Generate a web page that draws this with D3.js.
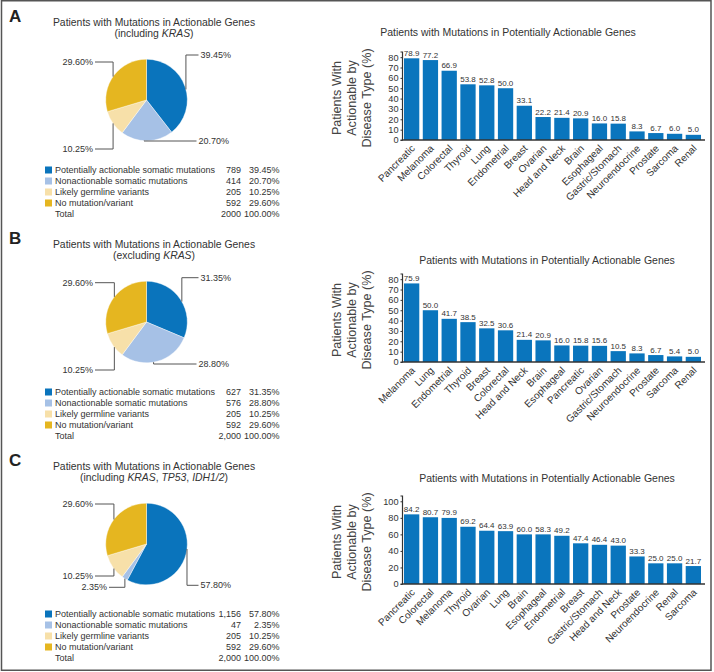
<!DOCTYPE html>
<html><head><meta charset="utf-8">
<script src="https://cdn.jsdelivr.net/npm/d3@7"></script>
<style>body{margin:0;background:#fff}svg{display:block}</style>
</head><body>
<svg id="chart" width="714" height="672"></svg>
<script>
// ---------- DATA ----------
const panelLetters = ["A", "B", "C"];
const pieCategories = ["Potentially actionable somatic mutations", "Nonactionable somatic mutations", "Likely germline variants", "No mutation/variant"];
const pieCountsA = [789, 414, 205, 592];
const pieCountsB = [627, 576, 205, 592];
const pieCountsC = [1156, 47, 205, 592];
const countTextA = ["789", "414", "205", "592", "2000"];
const countTextB = ["627", "576", "205", "592", "2,000"];
const countTextC = ["1,156", "47", "205", "592", "2,000"];
const pctTextA = ["39.45%", "20.70%", "10.25%", "29.60%", "100.00%"];
const pctTextB = ["31.35%", "28.80%", "10.25%", "29.60%", "100.00%"];
const pctTextC = ["57.80%", "2.35%", "10.25%", "29.60%", "100.00%"];
const pieTitle = "Patients with Mutations in Actionable Genes";
const pieSubtitlesA = [["(including ", false], ["KRAS", true], [")", false]];
const pieSubtitlesB = [["(excluding ", false], ["KRAS", true], [")", false]];
const pieSubtitlesC = [["(including ", false], ["KRAS", true], [", ", false], ["TP53", true], [", ", false], ["IDH1/2", true], [")", false]];

const barTitle = "Patients with Mutations in Potentially Actionable Genes";
const yAxisTitle = ["Patients With", "Actionable by", "Disease Type (%)"];
const categoriesA = ["Pancreatic", "Melanoma", "Colorectal", "Thyroid", "Lung", "Endometrial", "Breast", "Ovarian", "Head and Neck", "Brain", "Esophageal", "Gastric/Stomach", "Neuroendocrine", "Prostate", "Sarcoma", "Renal"];
const valuesA = [78.9, 77.2, 66.9, 53.8, 52.8, 50.0, 33.1, 22.2, 21.4, 20.9, 16.0, 15.8, 8.3, 6.7, 6.0, 5.0];
const labelsA = ["78.9", "77.2", "66.9", "53.8", "52.8", "50.0", "33.1", "22.2", "21.4", "20.9", "16.0", "15.8", "8.3", "6.7", "6.0", "5.0"];
const categoriesB = ["Melanoma", "Lung", "Endometrial", "Thyroid", "Breast", "Colorectal", "Head and Neck", "Brain", "Esophageal", "Pancreatic", "Ovarian", "Gastric/Stomach", "Neuroendocrine", "Prostate", "Sarcoma", "Renal"];
const valuesB = [75.9, 50.0, 41.7, 38.5, 32.5, 30.6, 21.4, 20.9, 16.0, 15.8, 15.6, 10.5, 8.3, 6.7, 5.4, 5.0];
const labelsB = ["75.9", "50.0", "41.7", "38.5", "32.5", "30.6", "21.4", "20.9", "16.0", "15.8", "15.6", "10.5", "8.3", "6.7", "5.4", "5.0"];
const categoriesC = ["Pancreatic", "Colorectal", "Melanoma", "Thyroid", "Ovarian", "Lung", "Brain", "Esophageal", "Endometrial", "Breast", "Gastric/Stomach", "Head and Neck", "Prostate", "Neuroendocrine", "Renal", "Sarcoma"];
const valuesC = [84.2, 80.7, 79.9, 69.2, 64.4, 63.9, 60.0, 60.0, 58.3, 49.2, 47.4, 46.4, 33.3, 25.0, 25.0, 21.7];
const labelsC = ["84.2", "80.7", "79.9", "69.2", "64.4", "63.9", "60.0", "58.3", "49.2", "47.4", "46.4", "43.0", "33.3", "25.0", "25.0", "21.7"];
const yTicksAB = [0, 10, 20, 30, 40, 50, 60, 70, 80];
const yTicksC = [0, 20, 40, 60, 80, 100];

// ---------- STYLE / LAYOUT ----------
const FONT = "'Liberation Sans', Arial, Helvetica, sans-serif";
const pieColors = ["#0a74bc", "#a6c1e6", "#f7e0a9", "#e5b620"];
const barColor = "#0a75bd";
const textColor = "#333";
const lineColor = "#555";

const panels = [
  { letter: panelLetters[0], off: 0, counts: pieCountsA, countText: countTextA, pctText: pctTextA, sub: pieSubtitlesA,
    cats: categoriesA, vals: valuesA, labs: labelsA, ticks: yTicksAB, yMax: 85, titleX: 508, titleY: 35.5,
    leaders: [
      { idx: 0, ang: 75, ly: -45, lx: 54, side: "r" },
      { idx: 1, ang: 183.5, ly: 41, lx: 52, side: "r" },
      { idx: 3, ang: 305, ly: -38, lx: -53.5, side: "l" },
      { idx: 2, ang: 235, ly: 49, lx: -53.5, side: "l" }]},
  { letter: panelLetters[1], off: 222, counts: pieCountsB, countText: countTextB, pctText: pctTextB, sub: pieSubtitlesB,
    cats: categoriesB, vals: valuesB, labs: labelsB, ticks: yTicksAB, yMax: 85, titleX: 547, titleY: 263.5,
    leaders: [
      { idx: 0, ang: 60, ly: -44.3, lx: 54, side: "r" },
      { idx: 1, ang: 170, ly: 42, lx: 52, side: "r" },
      { idx: 3, ang: 308, ly: -39.3, lx: -53.5, side: "l" },
      { idx: 2, ang: 232, ly: 48, lx: -53.5, side: "l" }]},
  { letter: panelLetters[2], off: 444, counts: pieCountsC, countText: countTextC, pctText: pctTextC, sub: pieSubtitlesC,
    cats: categoriesC, vals: valuesC, labs: labelsC, ticks: yTicksC, yMax: 106.4, titleX: 547, titleY: 481.5,
    leaders: [
      { idx: 0, ang: 97, ly: 41.3, lx: 54, side: "r" },
      { idx: 3, ang: 307, ly: -40, lx: -53.5, side: "l" },
      { idx: 2, ang: 233, ly: 32, lx: -53.5, side: "l" },
      { idx: 1, ang: 212, ly: 43.3, lx: -39.5, side: "l" }]}
];

const svg = d3.select("#chart").style("font-family", FONT);

// outer frame
svg.append("rect").attr("x", 1.5).attr("y", 0.75).attr("width", 709.5).attr("height", 669.5)
  .attr("fill", "none").attr("stroke", lineColor).attr("stroke-width", 1.5);

const R = 40.8;
const pie = d3.pie().sort(null).value(d => d);
const arc = d3.arc().innerRadius(0).outerRadius(R);

panels.forEach(p => {
  const off = p.off;
  // panel letter
  svg.append("text").attr("x", 9).attr("y", 22 + off).attr("font-size", 17).attr("font-weight", "bold")
    .attr("fill", "#222").text(p.letter);

  // pie title
  svg.append("text").attr("x", 154).attr("y", 25.5 + off).attr("text-anchor", "middle")
    .attr("font-size", 10.4).attr("fill", textColor).text(pieTitle);
  const st = svg.append("text").attr("x", 154).attr("y", 36.8 + off).attr("text-anchor", "middle")
    .attr("font-size", 10.4).attr("fill", textColor);
  p.sub.forEach(s => st.append("tspan").attr("font-style", s[1] ? "italic" : "normal").text(s[0]));

  // pie
  const cx = 146.5, cy = 100 + off;
  const g = svg.append("g").attr("transform", `translate(${cx},${cy})`);
  const arcs = pie(p.counts);
  g.selectAll("path").data(arcs).join("path").attr("d", arc)
    .attr("fill", (d, i) => pieColors[i]).attr("stroke", "#fff").attr("stroke-width", 0.4);

  // leader lines
  p.leaders.forEach(L => {
    const a = L.ang * Math.PI / 180;
    const ex = R * Math.sin(a), ey = -R * Math.cos(a);
    const endX = L.side === "r" ? L.lx - 2 : L.lx + 2;
    g.append("path").attr("d", `M${ex},${ey}V${L.ly}H${endX}`)
      .attr("fill", "none").attr("stroke", lineColor).attr("stroke-width", 1);
    g.append("text").attr("x", L.lx).attr("y", L.ly).attr("dy", "0.35em")
      .attr("text-anchor", L.side === "r" ? "start" : "end")
      .attr("font-size", 9).attr("fill", textColor).text(p.pctText[L.idx]);
  });

  // legend
  const rows = pieCategories.concat(["Total"]);
  rows.forEach((name, i) => {
    const y = 170 + off + i * 11;
    if (i < 4) {
      svg.append("rect").attr("x", 45).attr("y", y - 3.5).attr("width", 7).attr("height", 7).attr("fill", pieColors[i]);
    }
    svg.append("text").attr("x", 55).attr("y", y).attr("dy", "0.35em").attr("font-size", 9)
      .attr("fill", textColor).text(name);
    svg.append("text").attr("x", 241).attr("y", y).attr("dy", "0.35em").attr("font-size", 9)
      .attr("text-anchor", "end").attr("fill", textColor).text(p.countText[i]);
    svg.append("text").attr("x", 279.5).attr("y", y).attr("dy", "0.35em").attr("font-size", 9)
      .attr("text-anchor", "end").attr("fill", textColor).text(p.pctText[i]);
  });

  // bar chart
  const zeroY = 140 + off;
  const x = d3.scaleBand().domain(p.cats).range([404, 701]).paddingInner(0.186).paddingOuter(0);
  const y = d3.scaleLinear().domain([0, p.yMax]).range([zeroY, zeroY - 88]);

  svg.append("text").attr("x", p.titleX).attr("y", p.titleY).attr("text-anchor", "middle")
    .attr("font-size", 10.5).attr("fill", textColor).text(barTitle);

  const bg = svg.append("g");
  bg.selectAll("rect").data(p.vals).join("rect")
    .attr("x", (d, i) => x(p.cats[i])).attr("width", x.bandwidth())
    .attr("y", d => y(d)).attr("height", d => y(0) - y(d)).attr("fill", barColor);
  bg.selectAll("text.val").data(p.vals).join("text").attr("class", "val")
    .attr("x", (d, i) => x(p.cats[i]) + x.bandwidth() / 2).attr("y", d => y(d) - 2.5)
    .attr("text-anchor", "middle").attr("font-size", 8).attr("fill", textColor)
    .text((d, i) => p.labs[i]);

  // y axis
  const yAxis = d3.axisLeft(y).tickValues(p.ticks).tickSize(2).tickPadding(2).tickFormat(d3.format("d"));
  const ya = svg.append("g").attr("transform", "translate(402.5,0)").call(yAxis);
  ya.select(".domain").attr("d", `M-2,${y(p.yMax)}H0V${zeroY}H-2`).attr("stroke", "#333").attr("stroke-width", 1.2);
  ya.selectAll(".tick line").attr("stroke", "#333");
  ya.selectAll(".tick text").attr("font-size", 9.2).attr("font-family", FONT).attr("fill", textColor);

  // x axis
  const xAxis = d3.axisBottom(x).tickSize(0).tickPadding(0);
  const xa = svg.append("g").attr("transform", `translate(0,${zeroY})`).call(xAxis);
  xa.select(".domain").attr("d", "M402,0H705").attr("stroke", "#333").attr("stroke-width", 1.5);
  xa.selectAll(".tick text").attr("font-size", 10).attr("font-family", FONT).attr("fill", textColor)
    .attr("text-anchor", "end").attr("dy", 0).attr("y", 0)
    .attr("transform", "translate(4,9) rotate(-45)");

  // y axis title
  const tg = svg.append("g").attr("transform", `translate(351.5,${zeroY - 42}) rotate(-90)`);
  yAxisTitle.forEach((t, i) => {
    tg.append("text").attr("x", 0).attr("y", (i - 1) * 14.7).attr("dy", "0.35em").attr("text-anchor", "middle")
      .attr("font-size", 12.6).attr("fill", "#444").text(t);
  });
});
</script>
</body></html>
